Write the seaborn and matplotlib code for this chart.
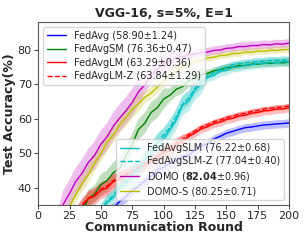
import numpy as np
import seaborn as sns
import matplotlib.pyplot as plt

# communication rounds (every 5 rounds)
rounds = list(range(0, 201, 5))

# mean test accuracy, one value per 5 rounds
fedavg = [10, 13, 16, 19, 22, 24, 26, 27.5, 29, 30.5, 31.5, 32.8, 34.2, 36.0, 37.4,
          39.2, 40.4, 42.1, 43.3, 45.1, 46.0, 47.2, 47.9, 49.1, 49.5, 50.8, 52.1,
          52.8, 54.1, 54.9, 55.8, 56.3, 56.9, 57.4, 57.6, 57.9, 58.2, 58.3, 58.5,
          58.6, 58.8]
fedavg_sm = [5, 8, 12, 16, 20, 24, 28, 33, 36.8, 38.2, 40.9, 42.1, 44.4, 45.6,
             49.3, 52.6, 56.9, 58.7, 61.8, 63.2, 65.7, 66.8, 68.5, 69.3, 71.0,
             71.6, 72.8, 73.1, 73.9, 74.2, 74.8, 74.9, 75.4, 75.4, 75.8, 75.8,
             76.1, 76.0, 76.3, 76.2, 76.4]
fedavg_lm = [15, 18, 21, 24, 27, 29.5, 32, 34.6, 36.8, 37.5, 39.3, 40.0, 41.8,
             42.3, 43.8, 44.3, 45.8, 46.3, 47.8, 48.5, 50.2, 50.8, 52.4, 53.3,
             54.9, 55.9, 57.1, 57.7, 58.6, 59.0, 59.8, 60.1, 60.8, 61.0, 61.6,
             61.8, 62.3, 62.4, 62.8, 62.8, 63.2]
fedavg_lm_z = [15, 18, 21, 24, 27, 29.8, 32.4, 35.0, 37.0, 38.0, 39.6, 40.5,
               42.1, 42.9, 44.1, 44.9, 46.1, 47.0, 48.2, 49.2, 50.6, 51.5, 52.9,
               54.0, 55.4, 56.5, 57.6, 58.3, 59.1, 59.6, 60.3, 60.7, 61.3, 61.6,
               62.1, 62.4, 62.8, 63.0, 63.3, 63.4, 63.7]
fedavg_slm = [5, 8, 11, 14, 17, 20, 23, 26, 28, 30.5, 33.0, 35.8, 37.2, 39.9,
              41.2, 43.9, 45.1, 47.8, 49.6, 52.9, 54.2, 56.8, 59.6, 63.9, 65.1,
              68.3, 70.1, 72.0, 72.5, 73.8, 74.0, 74.9, 75.0, 75.5, 75.6, 76.0,
              76.0, 76.3, 76.2, 76.5, 76.4]
fedavg_slm_z = [5, 8, 11, 14, 17, 20, 23, 26, 28.5, 31, 33.5, 36.2, 37.9, 40.3,
                42.0, 44.2, 46.0, 48.1, 50.5, 53.2, 55.3, 57.4, 60.6, 64.2, 66.0,
                68.9, 70.8, 72.4, 73.3, 74.3, 74.9, 75.6, 75.9, 76.2, 76.4, 76.6,
                76.7, 76.9, 76.9, 77.0, 77.0]
domo = [10, 15, 22, 29, 35.2, 38.3, 41.8, 44.2, 47.3, 49.4, 52.6, 54.8, 57.9,
        60.2, 62.3, 64.7, 67.8, 69.8, 72.6, 74.4, 75.9, 76.7, 77.6, 77.9, 78.6,
        78.7, 79.2, 79.3, 79.8, 79.9, 80.4, 80.5, 80.9, 80.9, 81.2, 81.2, 81.5,
        81.4, 81.7, 81.6, 81.9]
domo_s = [8, 12, 17, 22, 27, 34.5, 37.9, 41.2, 43.8, 47.2, 49.8, 53.2, 55.3,
          58.2, 60.3, 62.7, 64.3, 66.2, 67.4, 69.2, 70.8, 72.7, 73.8, 75.1,
          75.7, 76.6, 76.9, 77.6, 77.8, 78.3, 78.4, 78.9, 78.9, 79.3, 79.3,
          79.6, 79.6, 79.8, 79.8, 80.0, 80.1]

# std bands (half width)
fedavg_sd = [1.5] * 13 + [1.6] * 14 + [1.2] * 14
fedavg_sm_sd = [2.5] * 10 + [3.0] * 11 + [2.0] * 6 + [1.0] * 14
fedavg_lm_sd = [2.5] * 14 + [2.0] * 10 + [1.2] * 17
fedavg_lm_z_sd = [2.0] * 14 + [1.5] * 10 + [0.8] * 17
fedavg_slm_sd = [2.0] * 14 + [3.0] * 13 + [1.5] * 14
fedavg_slm_z_sd = [1.5] * 14 + [2.0] * 13 + [1.0] * 14
domo_sd = [4.0] * 17 + [2.5] * 6 + [1.2] * 18
domo_s_sd = [2.5] * 17 + [1.8] * 6 + [1.0] * 18

labels = ['FedAvg (58.90\u00b11.24)', 'FedAvgSM (76.36\u00b10.47)',
          'FedAvgLM (63.29\u00b10.36)', 'FedAvgLM-Z (63.84\u00b11.29)',
          'FedAvgSLM (76.22\u00b10.68)', 'FedAvgSLM-Z (77.04\u00b10.40)',
          r'DOMO ($\mathbf{82.04}$' + '\u00b10.96)',
          'DOMO-S (80.25\u00b10.71)']

series = [(fedavg, fedavg_sd, 'b', '-'), (fedavg_sm, fedavg_sm_sd, 'g', '-'),
          (fedavg_lm, fedavg_lm_sd, 'r', '-'), (fedavg_lm_z, fedavg_lm_z_sd, 'r', '--'),
          (fedavg_slm, fedavg_slm_sd, 'c', '-'), (fedavg_slm_z, fedavg_slm_z_sd, 'c', '--'),
          (domo, domo_sd, 'm', '-'), (domo_s, domo_s_sd, 'y', '-')]

sns.set_style("ticks")
plt.rcParams['font.family'] = ['DejaVu Sans']

fig, ax = plt.subplots(figsize=(3.05, 2.4), dpi=100)
fig.subplots_adjust(left=0.125, right=0.948, bottom=0.146, top=0.908)

x = np.array(rounds)
handles = []
for (mean, sd, col, ls), lab in zip(series, labels):
    mean = np.array(mean)
    sd = np.array(sd)
    sns.lineplot(x=x, y=mean, color=col, linestyle=ls, linewidth=1.0, ax=ax)
    ax.fill_between(x, mean - sd, mean + sd, color=col, alpha=0.25, linewidth=0)
    handles.append(ax.lines[-1])

ax.set_xlim(0, 200)
ax.set_ylim(35, 88)
ax.set_xticks(range(0, 201, 25))
ax.set_yticks([40, 50, 60, 70, 80])
ax.tick_params(labelsize=8, length=3, color='0.3', pad=1.5)
for s in ax.spines.values():
    s.set_color('0.35')
    s.set_linewidth(0.8)

ax.set_title('VGG-16, s=5%, E=1', fontsize=9, fontweight='bold', pad=4)
ax.set_xlabel('Communication Round', fontsize=9, fontweight='bold', labelpad=0)
ax.set_ylabel('Test Accuracy(%)', fontsize=9, fontweight='bold', labelpad=1)

leg1 = ax.legend(handles[:4], labels[:4], loc='upper left', fontsize=7,
                 handlelength=2.0, borderpad=0.4, labelspacing=0.35)
ax.add_artist(leg1)
ax.legend(handles[4:], labels[4:], loc='lower right', fontsize=7,
          handlelength=2.0, borderpad=0.4, labelspacing=0.35)

fig.savefig('out.png', dpi=100)
